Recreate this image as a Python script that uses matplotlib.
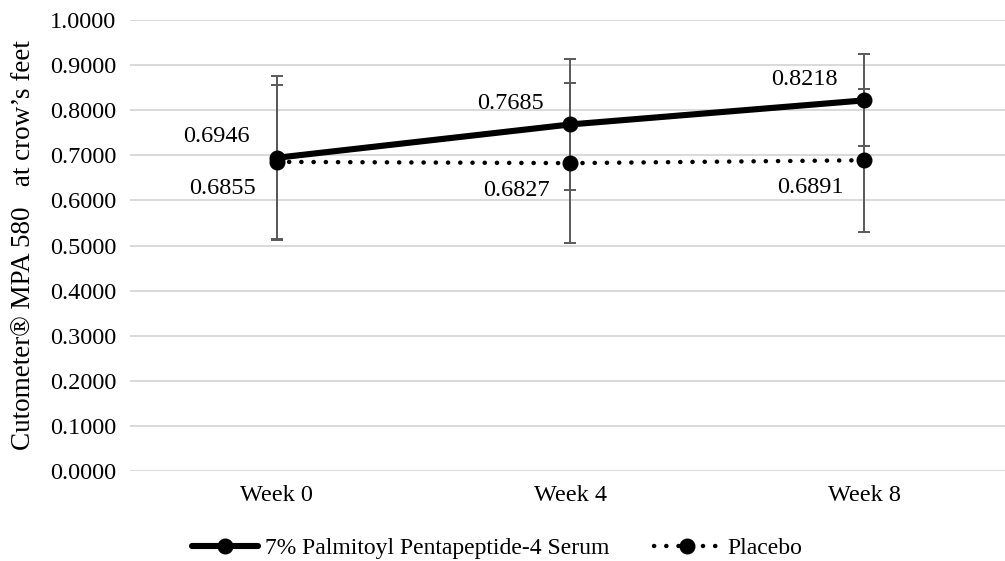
import matplotlib
matplotlib.use("Agg")
import matplotlib.pyplot as plt

# data
weeks = ["Week 0", "Week 4", "Week 8"]
serum = [0.6946, 0.7685, 0.8218]
serum_sd = [0.182, 0.145, 0.102]
placebo = [0.6855, 0.6827, 0.6891]
placebo_sd = [0.1715, 0.1767, 0.1584]
yticks = [0.0, 0.1, 0.2, 0.3, 0.4, 0.5, 0.6, 0.7, 0.8, 0.9, 1.0]

plt.rcParams["font.family"] = ["Liberation Serif", "DejaVu Serif"]
plt.rcParams["font.size"] = 17

fig = plt.figure(figsize=(10.05, 5.61), dpi=100)
ax = fig.add_axes([0.1294, 0.1604, 0.8706, 0.8039])

x = list(range(len(weeks)))

# error bars (behind the lines)
ax.errorbar(x, serum, yerr=serum_sd, fmt="none", ecolor="#595959",
            elinewidth=1.4, capsize=4.2, capthick=1.4, zorder=2)
ax.errorbar(x, placebo, yerr=placebo_sd, fmt="none", ecolor="#595959",
            elinewidth=1.4, capsize=4.2, capthick=1.4, zorder=2)

ax.plot(x, serum, color="black", lw=4.4, marker="o", markersize=10.5,
        solid_capstyle="round", label="7% Palmitoyl Pentapeptide-4 Serum", zorder=4)
ax.plot(x, placebo, color="black", lw=3.2, marker="o", markersize=10.5,
        linestyle=(0, (0.05, 2.7)), dash_capstyle="round",
        label="Placebo", zorder=3)

# value labels
for xi, v in zip(x, serum):
    ax.annotate(f"{v:.4f}", (xi, v), xytext=(-60, 21), textcoords="offset pixels",
                ha="center", va="center", fontsize=17.5)
for xi, v in zip(x, placebo):
    ax.annotate(f"{v:.4f}", (xi, v), xytext=(-54, -27), textcoords="offset pixels",
                ha="center", va="center", fontsize=17.5)

ax.set_xlim(-0.5, 2.48)
ax.set_ylim(0, 1.0)
ax.set_xticks(x)
ax.set_xticklabels(weeks)
ax.set_yticks(yticks)
ax.set_yticklabels([f"{t:.4f}" for t in yticks])
ax.tick_params(axis="both", length=0, pad=10, labelsize=17.5)
ax.grid(axis="y", color="#d9d9d9", lw=1.4)
ax.set_axisbelow(True)
for s in ax.spines.values():
    s.set_visible(False)

ax.set_ylabel("Cutometer® MPA 580   at crow’s feet", fontsize=19.5)
ax.yaxis.set_label_coords(-0.106, 0.5)

fig.legend(loc="center", bbox_to_anchor=(0.4945, 0.023), ncol=2, frameon=False,
           fontsize=17, handlelength=2.8, handletextpad=0.3, columnspacing=1.9)

fig.savefig("out.png", dpi=100)
